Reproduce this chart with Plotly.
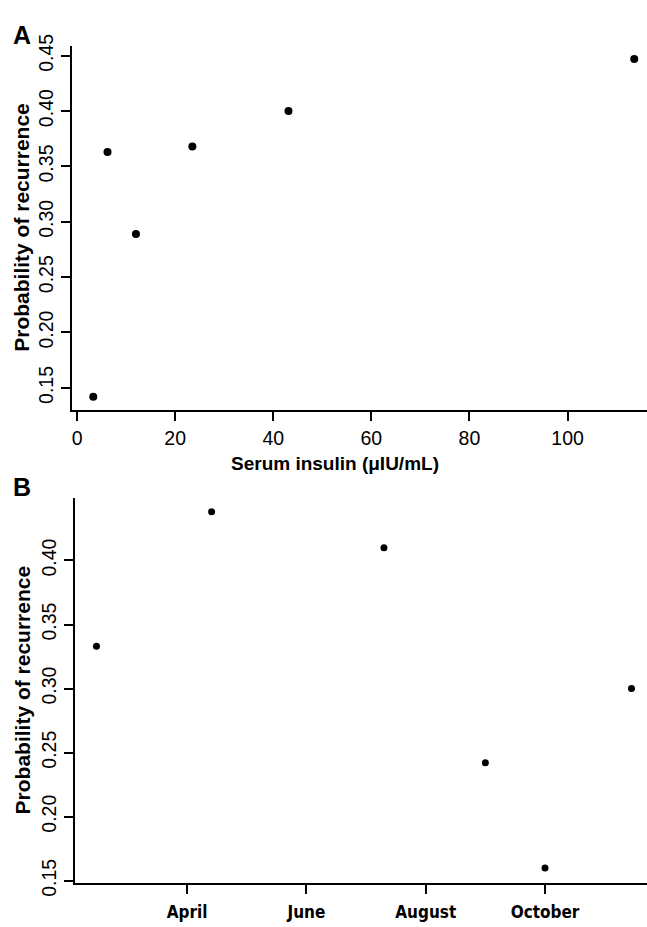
import plotly.graph_objects as go

# Panel A data
insulin = [3.3, 6.2, 12.0, 23.5, 43.1, 113.6]
prob_a = [0.142, 0.363, 0.289, 0.368, 0.400, 0.447]

# Panel B data (month index, 1 = January)
month = [2.48, 4.41, 7.30, 9.00, 10.00, 11.45]
prob_b = [0.333, 0.438, 0.410, 0.242, 0.160, 0.300]

y_ticks = [0.15, 0.20, 0.25, 0.30, 0.35, 0.40, 0.45]
y_ticks_b = [0.15, 0.20, 0.25, 0.30, 0.35, 0.40]
x_ticks_a = [0, 20, 40, 60, 80, 100]
month_ticks = [4, 6, 8, 10]
month_labels = ["April", "June", "August", "October"]

W, H = 647, 927
FONT = "Arial, Liberation Sans, Helvetica, sans-serif"
NARROW = "Liberation Sans Narrow, Arial Narrow, DejaVu Sans Condensed, sans-serif"

fig = go.Figure()
fig.add_trace(go.Scatter(x=insulin, y=prob_a, mode="markers", cliponaxis=False,
                         marker=dict(color="black", size=8), xaxis="x", yaxis="y",
                         showlegend=False))
fig.add_trace(go.Scatter(x=month, y=prob_b, mode="markers", cliponaxis=False,
                         marker=dict(color="black", size=7), xaxis="x2", yaxis="y2",
                         showlegend=False))

axis_common = dict(showline=True, linewidth=2, linecolor="black", ticks="outside",
                   ticklen=9, tickwidth=2, tickcolor="black", showgrid=False,
                   zeroline=False, mirror=False)

fig.update_layout(
    width=W, height=H, margin=dict(l=0, r=0, t=0, b=0),
    paper_bgcolor="white", plot_bgcolor="white",
    xaxis=dict(domain=[71.7 / W, 1], range=[-1.1, 116.2], anchor="y",
               tickvals=x_ticks_a, ticktext=[str(v) for v in x_ticks_a],
               tickfont=dict(family=FONT, size=19.5, color="black"), **axis_common),
    yaxis=dict(domain=[1 - 409.7 / H, 1 - 34.5 / H], range=[0.1298, 0.4592], anchor="x",
               tickvals=y_ticks, ticktext=["%.2f" % v for v in y_ticks], tickangle=-90,
               tickfont=dict(family=FONT, size=19.5, color="black"), **axis_common),
    xaxis2=dict(domain=[75 / W, 1], range=[2.12, 11.71], anchor="y2",
                tickvals=month_ticks, ticktext=month_labels, ticklabelstandoff=4,
                tickfont=dict(family=NARROW, size=17, color="black", weight="bold"),
                **axis_common),
    yaxis2=dict(domain=[1 - 896 / H, 1 - 500 / H], range=[0.1483, 0.4488], anchor="x2",
                tickvals=y_ticks_b, ticktext=["%.2f" % v for v in y_ticks_b], tickangle=-90,
                tickfont=dict(family=FONT, size=19.5, color="black"), **axis_common),
)

ann = [
    dict(text="<b>A</b>", x=22 / W, y=1 - 24 / H, font=dict(family=FONT, size=25)),
    dict(text="<b>B</b>", x=22 / W, y=1 - 489 / H, font=dict(family=FONT, size=25)),
    dict(text="<b>Probability of recurrence</b>", x=22 / W, y=1 - 222 / H, textangle=-90,
         font=dict(family=FONT, size=21)),
    dict(text="<b>Serum insulin (μIU/mL)</b>", x=335 / W, y=1 - 465 / H,
         font=dict(family=FONT, size=19)),
    dict(text="<b>Probability of recurrence</b>", x=22 / W, y=1 - 698 / H, textangle=-90,
         font=dict(family=FONT, size=21)),
]
for a in ann:
    a.update(xref="paper", yref="paper", showarrow=False, xanchor="center", yanchor="middle")
    a["font"]["color"] = "black"
fig.update_layout(annotations=ann)

fig.write_html("out.html", config={"displayModeBar": False},
               post_script="document.body.style.margin='0';document.body.style.overflow='hidden';")
